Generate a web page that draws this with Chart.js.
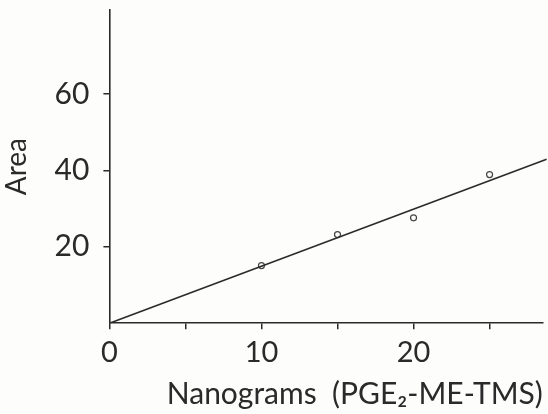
<!DOCTYPE html>
<html>
<head>
<meta charset="utf-8">
<script src="https://cdn.jsdelivr.net/npm/chart.js@4"></script>
<style>
  html, body { margin: 0; padding: 0; background: #fdfdfc; }
  #wrap { width: 548px; height: 414px; }
</style>
</head>
<body>
<div id="wrap"><canvas id="chart" width="548" height="414"></canvas></div>
<script>
// measured points (ng vs peak area)
const nanograms = [10, 15, 20, 25];
const area = [15.1, 23.2, 27.6, 38.9];

// calibration line ends
const fitX = [0, 28.75];
const fitY = [0, 42.9];

const yTickValues = [20, 40, 60];
const xTickLabels = { 0: '0', 10: '10', 20: '20' };

const ink = '#2a2a2a';

new Chart(document.getElementById('chart'), {
    type: 'scatter',
    data: {
        datasets: [{
            label: 'fit',
            type: 'line',
            data: fitX.map((x, i) => ({ x: x, y: fitY[i] })),
            borderColor: ink,
            borderWidth: 1.6,
            pointRadius: 0,
            fill: false,
            clip: { left: 0, top: 0, right: 6, bottom: 0 }
        }, {
            label: 'area',
            data: nanograms.map((x, i) => ({ x: x, y: area[i] })),
            borderColor: '#444',
            backgroundColor: 'rgba(0,0,0,0)',
            borderWidth: 1.2,
            pointRadius: 3,
            pointStyle: 'circle'
        }]
    },
    options: {
        responsive: false,
        animation: false,
        layout: { padding: { left: 0, right: 4, top: 10, bottom: 2 } },
        plugins: { legend: { display: false }, tooltip: { enabled: false } },
        scales: {
            x: {
                type: 'linear',
                min: 0,
                max: 28.5,
                afterBuildTicks: axis => {
                    axis.ticks = [0, 5, 10, 15, 20, 25].map(v => ({ value: v }));
                },
                ticks: {
                    autoSkip: false,
                    maxRotation: 0,
                    color: ink,
                    padding: 6,
                    font: { family: 'Lato', size: 29 },
                    callback: v => xTickLabels[v] || ''
                },
                grid: { drawOnChartArea: false, drawTicks: true, tickLength: 6, color: ink, lineWidth: 1.5 },
                border: { display: true, color: ink, width: 1.6 },
                title: {
                    display: true,
                    text: 'Nanograms  (PGE\u2082-ME-TMS)',
                    align: 'end',
                    color: ink,
                    font: { family: 'Lato', size: 30 },
                    padding: { top: 0, bottom: 0 }
                }
            },
            y: {
                type: 'linear',
                min: 0,
                max: 82,
                afterBuildTicks: axis => {
                    axis.ticks = yTickValues.map(v => ({ value: v }));
                },
                afterFit: axis => {
                    axis.paddingTop = 0;
                    axis.paddingBottom = 0;
                },
                ticks: {
                    color: ink,
                    padding: 14,
                    font: { family: 'Lato', size: 30 }
                },
                grid: { drawOnChartArea: false, drawTicks: true, tickLength: 6, color: ink, lineWidth: 1.5 },
                border: { display: true, color: ink, width: 1.6 },
                title: {
                    display: true,
                    text: 'Area',
                    color: ink,
                    font: { family: 'Lato', size: 28 },
                    padding: { top: 0, bottom: 7 }
                }
            }
        }
    }
});
</script>
</body>
</html>
